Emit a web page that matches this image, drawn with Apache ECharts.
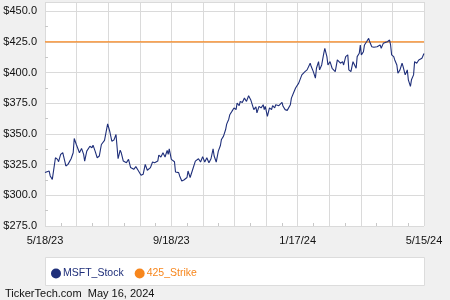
<!DOCTYPE html>
<html><head><meta charset="utf-8">
<script src="https://cdn.jsdelivr.net/npm/echarts@6/dist/echarts.min.js"></script>
<style>html,body{margin:0;padding:0;background:#f0f0f0;}#c{width:450px;height:300px;}</style>
</head><body><div id="c"></div>
<script>
// day offsets from 5/18/23
var days = [0,4,5,7,10,12,13,15,17,18,20,22,25,27,28,30,33,35,37,38,40,41,43,45,46,48,50,52,54,57,58,60,62,64,66,68,70,72,73,75,78,80,82,85,87,89,
92,94,96,98,101,103,105,108,109,111,113,115,117,118,119,121,124,125,128,129,131,133,136,137,139,141,144,145,147,149,151,153,155,157,159,161,162,164,166,168,169,171,173,174,176,
177,179,181,183,184,186,187,189,191,193,195,197,198,200,202,203,205,207,209,210,211,213,215,217,218,220,221,224,225,227,228,230,232,233,235,236,238,240,241,243,244,246,247,249,251,252,254,255,257,259,260,262,263,265,267,268,
270,271,273,275,276,278,280,283,285,286,288,290,291,293,295,296,298,299,301,302,303,305,306,308,310,311,313,315,318,319,321,322,324,326,327,328,330,331,332,334,335,337,338,340,342,343,345,346,347,348,350,351,353,354,356,358,359,361,362,363];
var prices = [318.5,319.8,315.8,313.0,330.6,329.3,327.4,333.3,334.7,334.0,323.9,325.2,329.8,334.7,346.3,341.4,334.7,338.2,333.3,327.9,336.0,336.8,340.0,338.8,340.9,336.0,330.6,332.0,341.4,344.7,345.5,358.2,352.2,344.1,345.0,349.5,329.8,336.8,334.7,327.9,326.6,329.3,322.6,321.2,323.4,320.6,
316.3,317.1,325.2,320.4,322.6,327.1,326.6,327.9,332.8,331.2,334.7,331.2,336.6,333.3,337.9,329.3,327.4,319.0,318.5,315.8,311.7,312.5,314.5,319.8,314.5,319.8,327.9,326.6,329.8,327.1,331.5,327.1,330.6,326.6,329.8,337.9,332.0,327.1,336.0,340.6,345.5,348.2,353.6,358.0,362.0,
365.7,368.4,371.2,369.8,375.2,373.0,376.5,375.7,379.2,376.5,381.1,377.9,376.5,369.8,372.0,367.1,372.5,371.2,373.8,369.8,372.5,364.4,371.2,369.8,373.0,371.2,373.8,373.0,373.8,375.7,372.5,369.8,369.2,367.6,373.8,379.2,383.3,387.4,388.7,391.4,392.8,398.1,396.8,400.8,402.2,403.5,407.6,404.9,400.8,395.5,403.5,408.9,402.2,406.2,415.7,419.8,
413.0,406.2,408.9,403.5,402.2,400.8,410.3,407.6,408.9,406.2,413.0,414.4,402.2,400.8,408.9,407.6,403.5,413.0,415.7,422.5,414.4,417.0,422.5,425.1,427.9,425.1,421.1,420.6,421.1,419.8,422.5,419.8,423.8,424.6,423.8,425.1,426.5,422.5,414.4,413.0,410.3,406.2,399.5,402.2,407.6,404.9,398.1,399.5,402.2,394.1,388.7,394.1,398.1,408.9,407.6,410.3,408.9,411.7,413.0,415.5];
var strike = 425;
var xTickLabels = ['5/18/23','9/18/23','1/17/24','5/15/24'];
var yMin = 275, yMax = 450, yStep = 25;
var totalDays = 363, xStep = 30.25;
var seriesNames = ['MSFT_Stock','425_Strike'];

var stockData = days.map(function(d,i){return [d, prices[i]];});
var strikeData = [[0, strike],[totalDays, strike]];

var chart = echarts.init(document.getElementById('c'), null, {renderer:'canvas'});
var navy = '#1f2f7a', orange = '#f7861c', gridCol = '#dadada';
chart.setOption({
  backgroundColor: '#f0f0f0',
  animation: false,
  textStyle: {fontFamily: 'Liberation Sans, Arial, sans-serif'},
  graphic: [
    {type:'rect', left:45, top:257, shape:{width:379, height:28}, style:{fill:'#fff', stroke:'#dcdcdc', lineWidth:1}, z:0},
    {type:'text', left:5, top:288, style:{text:'TickerTech.com  May 16, 2024', fill:'#111', font:'11px Liberation Sans, Arial, sans-serif'}}
  ],
  grid: {left:45, right:26, top:2, bottom:74, show:true, backgroundColor:'#fff', borderWidth:0},
  xAxis: {
    type:'value', min:0, max:totalDays, interval:xStep,
    axisLine:{show:false},
    axisTick:{show:false, inside:true},
    minorTick:{show:true, splitNumber:2, length:3, lineStyle:{color:'#c8c8c8'}},
    splitLine:{show:true, lineStyle:{color:gridCol, width:1}},
    axisLabel:{
      color:'#111', fontSize:11, margin:9, showMinLabel:true, showMaxLabel:true,
      formatter:function(v){var k=Math.round(v/xStep); if(Math.abs(v-k*xStep)>1e-6||k%4!==0) return ''; return xTickLabels[k/4]||'';}
    }
  },
  yAxis: {
    type:'value', min:yMin, max:457.5, interval:yStep,
    axisLine:{show:false},
    axisTick:{show:false, inside:true},
    minorTick:{show:true, splitNumber:2, length:3, lineStyle:{color:'#c8c8c8'}},
    splitLine:{show:true, lineStyle:{color:gridCol, width:1}},
    axisLabel:{
      color:'#111', fontSize:11, margin:8,
      formatter:function(v){ if(v>yMax || (v-yMin)%yStep!==0) return ''; return '$'+v.toFixed(1);}
    }
  },
  legend: {
    left:46, top:263, itemWidth:10, itemHeight:10, itemGap:11, icon:'circle',
    textStyle:{fontSize:10.5, padding:[0,0,0,-3]},
    data:[{name:seriesNames[0], textStyle:{color:navy}},{name:seriesNames[1], textStyle:{color:orange}}]
  },
  series: [
    {name:seriesNames[0], type:'line', data:stockData, showSymbol:false, symbol:'none', lineStyle:{color:navy, width:1.1}, itemStyle:{color:navy}, z:3},
    {name:seriesNames[1], type:'line', data:strikeData, showSymbol:false, symbol:'none', lineStyle:{color:orange, width:1.2}, itemStyle:{color:orange}, z:2}
  ]
});
</script></body></html>
